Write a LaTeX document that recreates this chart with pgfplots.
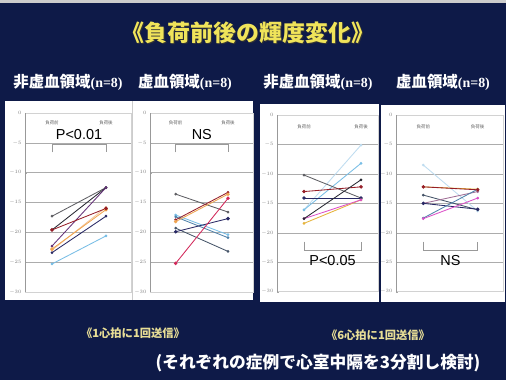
\documentclass[border=0pt]{standalone}
\usepackage{pgfplots}
\pgfplotsset{compat=1.18}
\usepackage{fontspec}
\setmainfont{Liberation Serif}
\newfontfamily\cjk{Noto Sans CJK JP}
\newfontfamily\sans{Liberation Sans}

\definecolor{bgnavy}{RGB}{14,26,72}
\definecolor{titley}{RGB}{240,228,90}
\definecolor{paley}{RGB}{232,222,150}
\definecolor{cgray}{RGB}{95,95,100}
\definecolor{cdred}{RGB}{150,30,40}
\definecolor{cblack}{RGB}{40,40,50}
\definecolor{cpurple}{RGB}{100,50,120}
\definecolor{corange}{RGB}{240,165,80}
\definecolor{cpeach}{RGB}{245,200,160}
\definecolor{cnavy}{RGB}{40,40,100}
\definecolor{clblue}{RGB}{120,190,230}
\definecolor{csteel}{RGB}{80,130,170}
\definecolor{ccrimson}{RGB}{210,40,90}
\definecolor{cslate}{RGB}{70,85,105}
\definecolor{cmauve}{RGB}{160,110,150}
\definecolor{cgold}{RGB}{230,180,60}
\definecolor{cmagenta}{RGB}{220,80,200}
\definecolor{cvlblue}{RGB}{190,220,240}

\pgfplotsset{
  panel/.style={
    scale only axis, anchor=south west,
    ymin=-30, ymax=0, ytick={-30,-25,...,0},
    xtick=\empty, ytick pos=left,
    ymajorgrids, grid style={gray!65, line width=0.5pt},
    axis line style={gray!35},
    major tick length=2.5pt,
    tick style={gray!70},
    yticklabel style={font=\fontsize{5}{6}\selectfont, text=gray},
    every axis plot/.append style={line width=0.85pt, mark=*, mark size=0.9pt},
    clip=false,
  },
}

\begin{document}
\begin{tikzpicture}
\useasboundingbox (0,0) rectangle (506bp,380bp);
\fill[bgnavy] (0,0) rectangle (506bp,380bp);
\fill[gray!40] (0,377bp) rectangle (506bp,380bp);

% white panels
\fill[white] (5bp,80bp) rectangle (253bp,279bp);
\draw[gray!40] (132bp,80bp) -- (132bp,279bp);
\fill[white] (260bp,78bp) rectangle (379bp,276bp);
\fill[white] (381bp,78bp) rectangle (505bp,275bp);

% title and subtitles
\node[text=black!80] at (249bp,346bp) {\cjk\bfseries\fontsize{23}{26}\selectfont 《負荷前後の輝度変化》};
\node[text=titley] at (248bp,347bp) {\cjk\bfseries\fontsize{23}{26}\selectfont 《負荷前後の輝度変化》};
\node[text=white] at (68bp,298bp) {{\cjk\bfseries\fontsize{15.5}{18}\selectfont 非虚血領域}{\bfseries\fontsize{14}{18}\selectfont(n=8)}};
\node[text=white] at (185bp,298bp) {{\cjk\bfseries\fontsize{15.5}{18}\selectfont 虚血領域}{\bfseries\fontsize{14}{18}\selectfont(n=8)}};
\node[text=white] at (318bp,298bp) {{\cjk\bfseries\fontsize{15.5}{18}\selectfont 非虚血領域}{\bfseries\fontsize{14}{18}\selectfont(n=8)}};
\node[text=white] at (443bp,298bp) {{\cjk\bfseries\fontsize{15.5}{18}\selectfont 虚血領域}{\bfseries\fontsize{14}{18}\selectfont(n=8)}};

\node[text=paley] at (133bp,47bp) {\cjk\bfseries\fontsize{11.3}{13}\selectfont 《1心拍に1回送信》};
\node[text=paley] at (378bp,45bp) {\cjk\bfseries\fontsize{11.3}{13}\selectfont 《6心拍に1回送信》};
\node[text=white] at (318bp,17bp) {\cjk\bfseries\fontsize{16.8}{19}\selectfont (それぞれの症例で心室中隔を3分割し検討)};

% ---------- Panel 1 ----------
\begin{axis}[panel, at={(25bp,88bp)}, width=106bp, height=179bp, xmin=0.5, xmax=2.463]
\addplot[cgray] coordinates {(1,-17.3) (2,-12.5)};
\addplot[cblack] coordinates {(1,-19.6) (2,-12.5)};
\addplot[cpurple] coordinates {(1,-22.3) (2,-12.5)};
\addplot[cnavy] coordinates {(1,-23.4) (2,-17.3)};
\addplot[cpeach] coordinates {(1,-23.0) (2,-15.8)};
\addplot[corange, mark size=1.4pt] coordinates {(1,-22.8) (2,-16.2)};
\addplot[cdred, mark size=1.4pt] coordinates {(1,-19.6) (2,-16.0)};
\addplot[clblue] coordinates {(1,-25.3) (2,-20.6)};
\node[font=\cjk\fontsize{4.5}{5}\selectfont, text=gray!80!black] at (axis cs:1,-1.7) {負荷前};
\node[font=\cjk\fontsize{4.5}{5}\selectfont, text=gray!80!black] at (axis cs:2,-1.7) {負荷後};
\node[font=\sans\fontsize{14.5}{16}\selectfont] at (axis cs:1.5,-3.6) {P<0.01};
\draw[gray!80, line width=0.6pt] (axis cs:1,-6.6) -- (axis cs:1,-5.3) -- (axis cs:2,-5.3) -- (axis cs:2,-6.6);
\draw[gray!80, line width=0.6pt] (rel axis cs:0,0) -- (rel axis cs:0,1);
\end{axis}

% ---------- Panel 2 ----------
\begin{axis}[panel, at={(150bp,88bp)}, width=103bp, height=179bp, xmin=0.509, xmax=2.478]
\addplot[cgray] coordinates {(1,-13.6) (2,-16.6)};
\addplot[clblue] coordinates {(1,-17.1) (2,-20.4)};
\addplot[csteel] coordinates {(1,-17.4) (2,-20.9)};
\addplot[cslate] coordinates {(1,-19.3) (2,-23.2)};
\addplot[cnavy, mark size=1.3pt] coordinates {(1,-19.9) (2,-17.7)};
\addplot[cdred] coordinates {(1,-17.9) (2,-13.3)};
\addplot[corange, mark size=1.3pt] coordinates {(1,-18.2) (2,-13.6)};
\addplot[ccrimson, mark size=1.3pt] coordinates {(1,-25.2) (2,-14.3)};
\node[font=\cjk\fontsize{4.5}{5}\selectfont, text=gray!80!black] at (axis cs:1,-1.7) {負荷前};
\node[font=\cjk\fontsize{4.5}{5}\selectfont, text=gray!80!black] at (axis cs:2,-1.7) {負荷後};
\node[font=\sans\fontsize{14.5}{16}\selectfont] at (axis cs:1.5,-3.6) {NS};
\draw[gray!80, line width=0.6pt] (axis cs:1,-6.6) -- (axis cs:1,-5.3) -- (axis cs:2,-5.3) -- (axis cs:2,-6.6);
\draw[gray!80, line width=0.6pt] (rel axis cs:0,0) -- (rel axis cs:0,1);
\end{axis}

% ---------- Panel 3 ----------
\begin{axis}[panel, at={(277bp,88.3bp)}, width=101bp, height=176.7bp, xmin=0.526, xmax=2.298]
\addplot[cvlblue] coordinates {(1,-16.1) (2,-5.1)};
\addplot[clblue] coordinates {(1,-16.1) (2,-8.2)};
\addplot[cgray] coordinates {(1,-10.2) (2,-14.1)};
\addplot[cdred, mark size=1.3pt] coordinates {(1,-13.0) (2,-12.2)};
\addplot[cnavy, mark size=1.3pt] coordinates {(1,-14.1) (2,-14.1)};
\addplot[cgold] coordinates {(1,-18.4) (2,-14.4)};
\addplot[cmagenta] coordinates {(1,-17.6) (2,-14.4)};
\addplot[cblack] coordinates {(1,-17.6) (2,-11.0)};
\node[font=\cjk\fontsize{4.5}{5}\selectfont, text=gray!80!black] at (axis cs:1,-2.0) {負荷前};
\node[font=\cjk\fontsize{4.5}{5}\selectfont, text=gray!80!black] at (axis cs:2,-2.0) {負荷後};
\node[font=\sans\fontsize{14.5}{16}\selectfont] at (axis cs:1.5,-24.7) {P<0.05};
\draw[gray!80, line width=0.6pt] (axis cs:1,-21.5) -- (axis cs:1,-22.9) -- (axis cs:2,-22.9) -- (axis cs:2,-21.5);
\draw[gray!80, line width=0.6pt] (rel axis cs:0,0) -- (rel axis cs:0,1);
\end{axis}

% ---------- Panel 4 ----------
\begin{axis}[panel, at={(396bp,88.3bp)}, width=107bp, height=176.7bp, xmin=0.498, xmax=2.465]
\addplot[cvlblue] coordinates {(1,-8.5) (2,-16.3)};
\addplot[cslate] coordinates {(1,-13.6) (2,-16.1)};
\addplot[cmauve] coordinates {(1,-15.0) (2,-13.0)};
\addplot[cnavy, mark size=1.3pt] coordinates {(1,-15.0) (2,-16.0)};
\addplot[csteel] coordinates {(1,-17.5) (2,-12.6)};
\addplot[cmagenta] coordinates {(1,-17.6) (2,-14.1)};
\addplot[cgold] coordinates {(1,-12.2) (2,-12.6)};
\addplot[cdred, mark size=1.3pt] coordinates {(1,-12.2) (2,-12.7)};
\node[font=\cjk\fontsize{4.5}{5}\selectfont, text=gray!80!black] at (axis cs:1,-2.0) {負荷前};
\node[font=\cjk\fontsize{4.5}{5}\selectfont, text=gray!80!black] at (axis cs:2,-2.0) {負荷後};
\node[font=\sans\fontsize{14.5}{16}\selectfont] at (axis cs:1.5,-24.7) {NS};
\draw[gray!80, line width=0.6pt] (axis cs:1,-21.5) -- (axis cs:1,-22.9) -- (axis cs:2,-22.9) -- (axis cs:2,-21.5);
\draw[gray!80, line width=0.6pt] (rel axis cs:0,0) -- (rel axis cs:0,1);
\end{axis}
\end{tikzpicture}
\end{document}
